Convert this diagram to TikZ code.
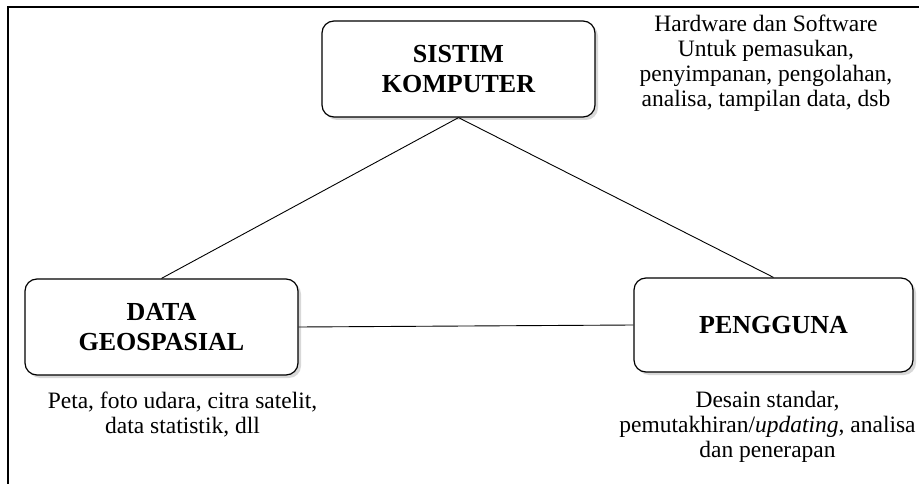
\documentclass[tikz,border=0pt]{standalone}
\usepackage{fontspec}
\setmainfont{Liberation Serif}
\usetikzlibrary{positioning,shadows}

\begin{document}
\begin{tikzpicture}[x=1pt,y=-1pt,
    kotak/.style={rectangle,rounded corners=12pt,draw,line width=1.2pt,fill=white,
      drop shadow={shadow xshift=3pt,shadow yshift=-3pt,fill=black!30},
      align=center,font=\fontsize{26}{29.5}\selectfont\bfseries,
      minimum width=273pt,minimum height=96pt},
    ket/.style={align=center,font=\fontsize{23.5}{25}\selectfont,inner sep=0pt}]
  \useasboundingbox (0,0) rectangle (919,484);
  % bingkai
  \draw[line width=1.6pt] (919,7) -- (8,7) -- (8,484);

  \node[kotak] (komputer) at (458.5,69) {SISTIM\\KOMPUTER};
  \node[kotak] (geo) at (161.5,327) {DATA\\GEOSPASIAL};
  \node[kotak,minimum width=279pt,minimum height=94pt] (pengguna) at (773.5,325) {PENGGUNA};

  \draw[line width=0.9pt] (komputer.south) to (geo.north);
  \draw[line width=0.9pt] (komputer.south) to (pengguna.north);
  \draw[line width=0.9pt] (geo.east) to (pengguna.west);

  \node[ket] (hw) at (766,63) {Hardware dan Software\\Untuk pemasukan,\\penyimpanan, pengolahan,\\analisa, tampilan data, dsb};
  \node[ket,below=16pt of geo,xshift=21pt] (datageo) {Peta, foto udara, citra satelit,\\data statistik, dll};
  \node[ket,below=18pt of pengguna,xshift=-6pt] (guna) {Desain standar,\\pemutakhiran/\textit{updating}, analisa\\dan penerapan};
\end{tikzpicture}
\end{document}
